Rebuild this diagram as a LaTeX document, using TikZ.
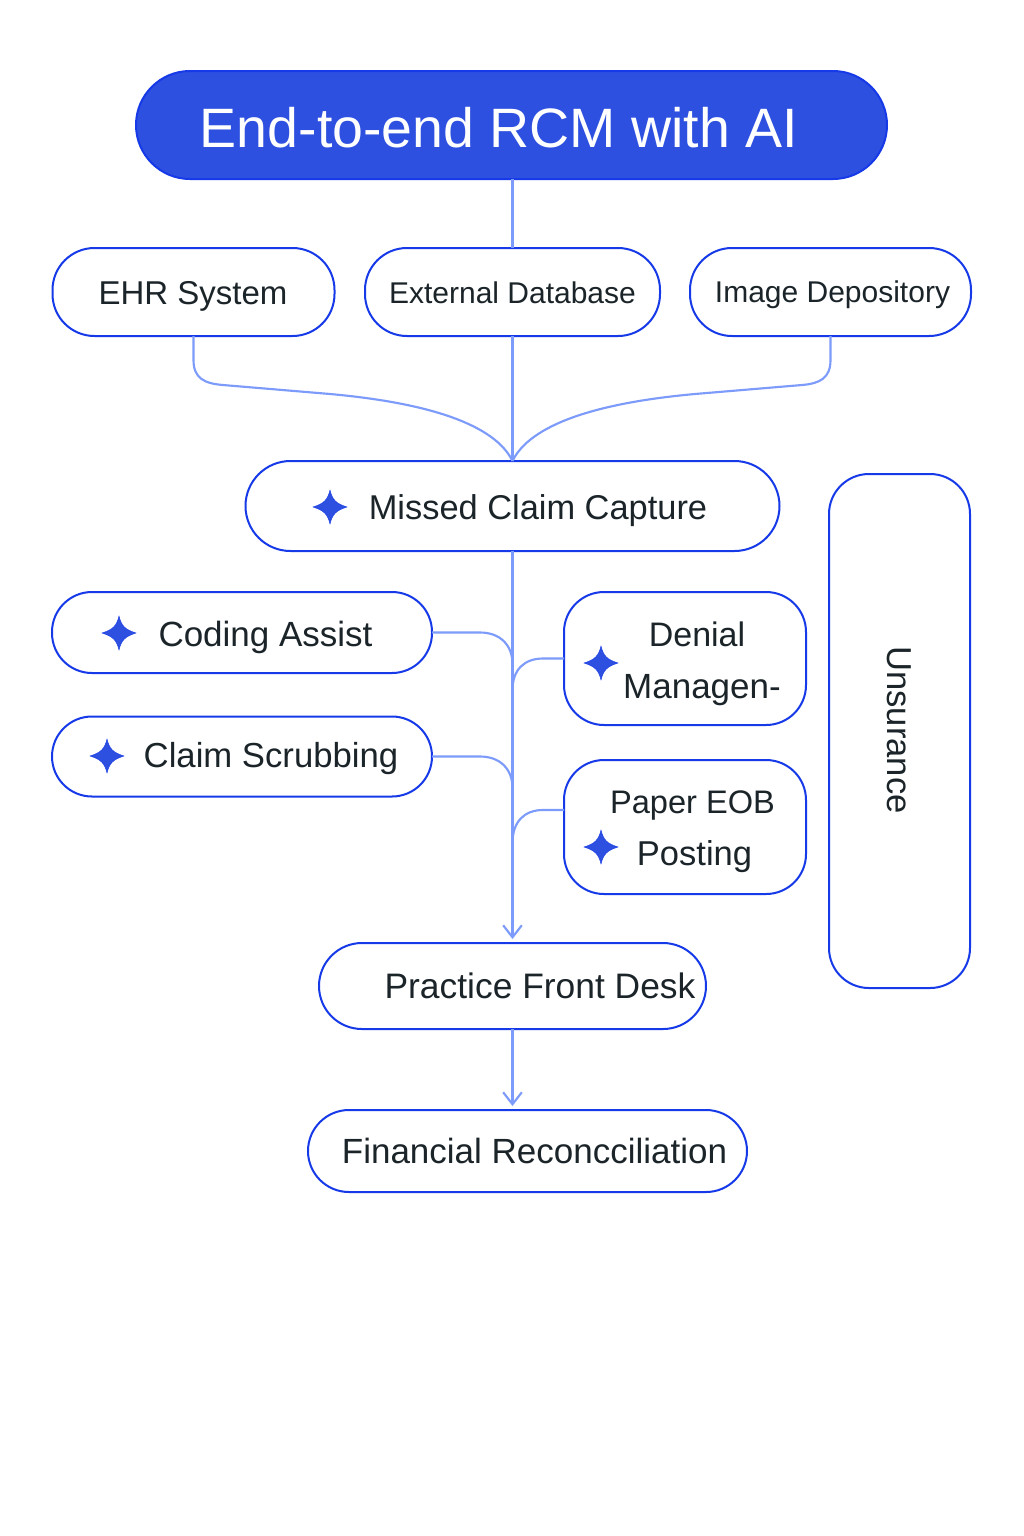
\documentclass[tikz,border=0pt]{standalone}
\usepackage{fontspec}
\setmainfont{Liberation Sans}
\usetikzlibrary{arrows.meta}
\definecolor{boxblue}{RGB}{22,58,232}
\definecolor{fillblue}{RGB}{45,80,224}
\definecolor{linkblue}{RGB}{125,155,250}
\definecolor{inkdark}{RGB}{27,36,41}
\def\px{0.75pt}
\newcommand{\txtsize}[1]{\pgfmathparse{#1*0.75}\fontsize{\pgfmathresult pt}{\pgfmathresult pt}\selectfont}
\newcommand{\spark}[2]{\fill[fillblue,draw=boxblue,line width=0.3pt] (#1,#2-17) .. controls (#1+2.5,#2-7) and (#1+6,#2-3.5) .. (#1+17,#2) .. controls (#1+6,#2+3.5) and (#1+2.5,#2+7) .. (#1,#2+17) .. controls (#1-2.5,#2+7) and (#1-6,#2+3.5) .. (#1-17,#2) .. controls (#1-6,#2-3.5) and (#1-2.5,#2-7) .. (#1,#2-17) -- cycle;}
\tikzset{
  x=0.75pt,y=-0.75pt,
  pill/.style={draw=boxblue,line width=1.5pt,fill=white,inner sep=0pt,outer sep=0pt},
  link/.style={draw=linkblue,line width=1.6pt},
  arrowlink/.style={link,-{Straight Barb[length=9pt,width=14pt,line width=1.6pt]},shorten >=3pt},
  label/.style={text=inkdark,inner sep=0pt,anchor=center},
}
\begin{document}
\begin{tikzpicture}
\useasboundingbox (0,0) rectangle (1024,1536);
\fill[white] (0,0) rectangle (1024,1536);
\node[pill,fill=fillblue,minimum width=751*\px,minimum height=108*\px,rounded corners=54*\px] (title) at (511.5,125) {};
\node[pill,minimum width=282*\px,minimum height=88*\px,rounded corners=42*\px] (ehr) at (193.5,292) {};
\node[pill,minimum width=295*\px,minimum height=88*\px,rounded corners=42*\px] (ext) at (512.5,292) {};
\node[pill,minimum width=281*\px,minimum height=88*\px,rounded corners=42*\px] (img) at (830.5,292) {};
\node[pill,minimum width=534*\px,minimum height=90*\px,rounded corners=45*\px] (missed) at (512.5,506) {};
\node[pill,minimum width=380*\px,minimum height=81*\px,rounded corners=40*\px] (coding) at (242,632.5) {};
\node[pill,minimum width=380*\px,minimum height=80*\px,rounded corners=40*\px] (claim) at (242,756.5) {};
\node[pill,minimum width=242*\px,minimum height=133*\px,rounded corners=40*\px] (denial) at (685,658.5) {};
\node[pill,minimum width=242*\px,minimum height=134*\px,rounded corners=40*\px] (paper) at (685,827) {};
\node[pill,minimum width=387*\px,minimum height=86*\px,rounded corners=43*\px] (front) at (512.5,986) {};
\node[pill,minimum width=439*\px,minimum height=82*\px,rounded corners=41*\px] (fin) at (527.5,1151) {};
\node[pill,minimum width=141*\px,minimum height=514*\px,rounded corners=40*\px] (ins) at (899.5,731) {};
% connectors
\coordinate (papertap) at (564,810);
\draw[link] (title.south -| ext.north) -- (ext.north);
\draw[link] (ext.south) -- (missed.north);
\draw[link] (ehr.south) -- (193.5,360) .. controls (193.5,378) and (204,383.5) .. (223,385) -- (330,394) .. controls (430,403) and (495,425) .. (missed.north);
\draw[link] (img.south) -- (830.5,360) .. controls (830.5,378) and (820,383.5) .. (802,385) -- (695,394) .. controls (595,403) and (530,425) .. (missed.north);
\draw[arrowlink] (missed.south) -- (front.north);
\draw[arrowlink] (front.south) -- (front.south |- fin.north);
\draw[link] (coding.east) -- (480,632.5) .. controls (500,632.5) and (512.5,645) .. (512.5,664) -- (512.5,680);
\draw[link] (claim.east) -- (480,756.5) .. controls (500,756.5) and (512.5,769) .. (512.5,788) -- (512.5,805);
\draw[link] (denial.west) -- (543,658.5) .. controls (524,658.5) and (512.5,670) .. (512.5,690) -- (512.5,705);
\draw[link] (papertap) -- (543,810) .. controls (524,810) and (512.5,822) .. (512.5,843) -- (512.5,858);
% labels
\node[label,text=white] (ttitle) at (499,128) {\txtsize{55.5}End-to-end RCM with AI};
\node[label] (tehr) at (193,296) {\txtsize{33}EHR System};
\node[label] (text) at (512.5,293) {\txtsize{30}External Database};
\node[label] (timg) at (832.5,295) {\txtsize{30}Image Depository};
\node[label] (tmissed) at (538,511) {\txtsize{34.4}Missed Claim Capture};
\node[label] (tcoding) at (265.5,637) {\txtsize{35}Coding Assist};
\node[label] (tclaim) at (271,759) {\txtsize{34.7}Claim Scrubbing};
\node[label] (tden1) at (697,634) {\txtsize{34}Denial};
\node[label] (tden2) at (702,690) {\txtsize{35}Managen-};
\node[label] (tpap1) at (692.5,805) {\txtsize{32.6}Paper EOB};
\node[label] (tpap2) at (694.5,857) {\txtsize{34.5}Posting};
\node[label] (tfront) at (540,986) {\txtsize{35.4}Practice Front Desk};
\node[label] (tfin) at (534.5,1151) {\txtsize{35}Financial Reconcciliation};
\node[label,rotate=-90] (tins) at (899,730) {\txtsize{34.6}Unsurance};
\spark{330}{507}
\spark{119}{633}
\spark{107}{756}
\spark{601}{663}
\spark{601}{847}
\end{tikzpicture}
\end{document}
